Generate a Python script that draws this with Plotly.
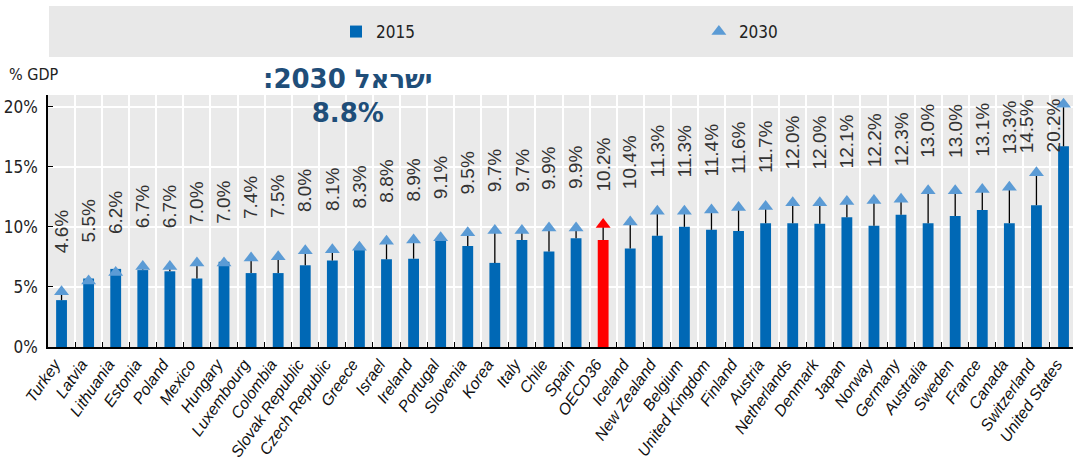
import plotly.graph_objects as go

countries = ["Turkey", "Latvia", "Lithuania", "Estonia", "Poland", "Mexico", "Hungary",
             "Luxembourg", "Colombia", "Slovak Republic", "Czech Republic", "Greece", "Israel",
             "Ireland", "Portugal", "Slovenia", "Korea", "Italy", "Chile", "Spain", "OECD36",
             "Iceland", "New Zealand", "Belgium", "United Kingdom", "Finland", "Austria",
             "Netherlands", "Denmark", "Japan", "Norway", "Germany", "Australia", "Sweden",
             "France", "Canada", "Switzerland", "United States"]

v2015 = [3.9, 5.7, 6.5, 6.4, 6.3, 5.7, 7.1, 6.15, 6.15, 6.8, 7.2, 8.2, 7.3, 7.35, 8.9, 8.4,
         7.0, 8.9, 7.95, 9.05, 8.9, 8.2, 9.25, 10.0, 9.75, 9.65, 10.3, 10.3, 10.25, 10.8,
         10.1, 11.0, 10.3, 10.9, 11.4, 10.3, 11.8, 16.7]

v2030 = [4.6, 5.5, 6.2, 6.7, 6.7, 7.0, 7.0, 7.4, 7.5, 8.0, 8.1, 8.3, 8.8, 8.9, 9.1, 9.5,
         9.7, 9.7, 9.9, 9.9, 10.2, 10.4, 11.3, 11.3, 11.4, 11.6, 11.7, 12.0, 12.0, 12.1,
         12.2, 12.3, 13.0, 13.0, 13.1, 13.3, 14.5, 20.2]

highlight = "OECD36"
y_ticks = [0, 5, 10, 15, 20]
y_tick_text = [f"{t}%" for t in y_ticks]
israel_note = ":2030 ישראל<br>8.8%"

BLUE = "#0068B5"
LIGHT = "#5B9BD5"
RED = "#FF0000"
NARROW = "Liberation Sans Narrow, Arial Narrow, DejaVu Sans Condensed, sans-serif"
LABEL_OFFSET = 5.0
LABEL_CAP = 18.4

bar_colors = [RED if c == highlight else BLUE for c in countries]
tri_colors = [RED if c == highlight else LIGHT for c in countries]
gap = [max(0.0, b - a) for a, b in zip(v2015, v2030)]

fig = go.Figure()
fig.add_trace(go.Bar(
    x=countries, y=v2015, name="2015", width=0.4, legend="legend",
    marker=dict(color=bar_colors, line=dict(width=0)),
))
fig.add_trace(go.Scatter(
    x=countries, y=v2030, name="2030", mode="markers", legend="legend2",
    marker=dict(symbol="triangle-up", size=13, color=tri_colors),
    error_y=dict(type="data", symmetric=False, array=[0] * len(gap), arrayminus=gap,
                 color="black", thickness=1.3, width=0),
))

for c, v in zip(countries, v2030):
    capped = v + LABEL_OFFSET > LABEL_CAP
    fig.add_annotation(
        x=c, y=min(v + LABEL_OFFSET, LABEL_CAP), text=f"{v:.1f}%", textangle=-90,
        showarrow=False, xanchor="center", yanchor="middle",
        xshift=-10 if capped else 0,
        font=dict(family="Liberation Sans, Arial, sans-serif", size=19, color="#333333"),
    )

fig.add_annotation(
    xref="paper", yref="paper", x=0.293, y=0.998, text=israel_note, showarrow=False,
    xanchor="center", yanchor="middle", align="center",
    font=dict(family="DejaVu Sans, sans-serif", size=26, color="#1F4E79", weight="bold"),
)
fig.add_annotation(
    xref="paper", yref="paper", x=-0.04, y=1.08, text="% GDP", showarrow=False,
    xanchor="left", yanchor="middle",
    font=dict(family=NARROW, size=16, color="#222222"),
)

fig.add_shape(type="rect", xref="paper", yref="paper", x0=0.001, x1=1.01,
              y0=1.151, y1=1.353, fillcolor="#E8E8E8", line=dict(width=0), layer="below")

legend_common = dict(orientation="h", xanchor="left", y=1.25, yanchor="middle",
                     bgcolor="rgba(0,0,0,0)",
                     font=dict(family=NARROW, size=17, color="#222222"))

fig.update_layout(
    width=1073, height=472,
    margin=dict(l=48, r=0, t=95, b=125, autoexpand=False),
    paper_bgcolor="white", plot_bgcolor="#EAEAEA",
    showlegend=True,
    legend=dict(x=0.281, **legend_common),
    legend2=dict(x=0.635, **legend_common),
    xaxis=dict(
        type="category", range=[-0.5, 37.35], tickson="boundaries", automargin=False,
        showgrid=True, gridcolor="white", gridwidth=1.5,
        ticks="inside", ticklen=5, tickcolor="black", tickwidth=1.2,
        showline=True, linecolor="black", linewidth=1.5,
        tickangle=-55, ticklabelshift=-7,
        tickfont=dict(family="Liberation Sans, Arial, sans-serif", size=16, color="#111111",
                      style="italic"),
    ),
    yaxis=dict(
        range=[0, 20.97], tickvals=y_ticks, ticktext=y_tick_text, automargin=False,
        showgrid=True, gridcolor="white", gridwidth=1.5, zeroline=False,
        ticks="inside", ticklen=5, tickcolor="black", ticklabelstandoff=5,
        showline=True, linecolor="black", linewidth=1.5,
        tickfont=dict(family=NARROW, size=17, color="#222222"),
    ),
)

fig.write_html("out.html", config={"displayModeBar": False},
               post_script="document.body.style.margin='0';")
